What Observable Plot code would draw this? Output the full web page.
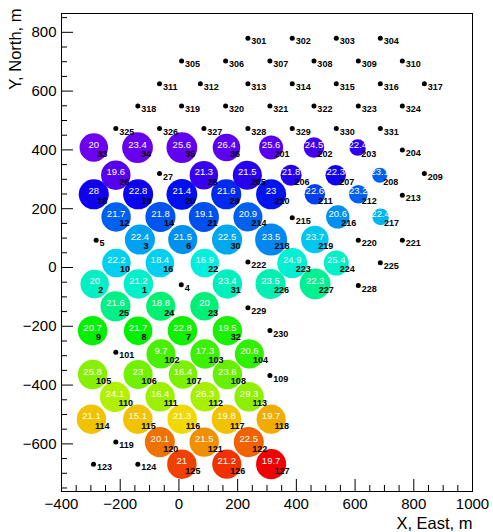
<!DOCTYPE html>
<html><head><meta charset="utf-8">
<script src="https://cdn.jsdelivr.net/npm/d3@7"></script>
<script src="https://cdn.jsdelivr.net/npm/@observablehq/plot@0.6"></script>
<style>body{margin:0;background:#fff}</style>
</head><body><div id="chart"></div>
<script>
// Stations with a signal: id, position (m), displayed value, amplitude (relative), arrival time (relative)
const hitIds = [33,34,35,36,201,202,203, 26,28,205,206,207,208, 18,19,20,29,210,211,212, 12,14,21,214,216,217, 3,6,30,218,219, 10,16,22,223,224, 2,1,31,226,227, 25,24,23, 9,8,7,32, 102,103,104, 105,106,107,108, 110,111,112,113, 114,115,116,117,118, 120,121,122, 125,126,127];
const hitX = [-290,-141,10,162,314,460,609, -215,85,233,382,534,684, -290,-139,10,161,314,463,611, -214,-63,85,235,541,687, -133,13,164,314,463, -213,-65,88,386,536, -287,-138,165,312,464, -216,-62,87, -294,-139,12,165, -61,89,240, -294,-139,14,165, -218,-64,89,239, -298,-140,11,162,314, -65,86,238, 10,163,314];
const hitY = [408,408,408,408,408,408,408, 314,314,314,314,314,314, 249,249,249,249,249,249,249, 172,172,172,172,172,172, 95,95,95,95,95, 15,15,15,15,15, -56,-56,-56,-56,-56, -132,-132,-132, -215,-215,-215,-215, -294,-294,-294, -364,-364,-364,-364, -440,-440,-440,-440, -516,-516,-516,-516,-516, -594,-594,-594, -669,-669,-669];
const hitValue = [20,23.4,25.6,26.4,25.6,24.5,22.4, 19.6,21.3,21.5,21.8,22.3,23.1, 28,22.8,21.4,21.6,23,22.6,23.2, 21.7,21.8,19.1,20.9,20.6,22.4, 22.4,21.5,22.5,23.5,23.7, 22.2,18.4,16.9,24.9,25.4, 20,21.2,23.4,23.5,22.3, 21.6,18.8,20, 20.7,21.7,22.8,19.5, 9.7,17.3,20.6, 25.8,23,16.4,23.6, 24.1,16.4,26.3,29.3, 21.1,15.1,21.3,19.8,19.7, 20.1,21.5,22.5, 21,21.2,19.7];
const hitAmp = [89,96,96,86,75,64,52, 92,89,91,66,64,47, 94,94,96,94,94,64,58, 92,94,94,91,73,52, 94,91,94,100,86, 89,89,89,94,78, 89,92,92,94,96, 94,91,89, 92,89,92,92, 91,92,91, 92,91,89,92, 94,92,92,92, 92,92,92,92,91, 94,92,94, 92,91,94];
const hitTime = [1,1.5,2,2.5,3,5,7, 3,6,7.5,8,9.5,20, 9.5,10,12.5,15,13,17,20, 20,19,18.5,20,24.5,28, 26,24.5,26.7,23.7,29.6, 30.4,30.4,35,36,37, 37.4,36.7,38,39,42, 43,45,44.5, 56,55.5,57,58, 62,61,60, 68,66,67,65, 72,70,71,68.5, 82,82,80,82,84, 89.6,86.7,91, 94,95.5,100];

// Stations without a signal
const dotIds = [301,302,303,304, 305,306,307,308,309,310, 311,312,313,314,315,316,317, 318,319,320,321,322,323,324, 325,326,327,328,329,330,331, 204, 27,209, 213, 215, 5,220,221, 222,225, 4,228, 229, 230, 101, 109, 119, 123,124];
const dotX = [235,386,536,686, 9,159,310,460,611,761, -66,73,235,386,536,686,836, -140,9,159,310,460,611,761, -215,-66,85,235,386,536,686, 761, -66,836, 761, 386, -282,611,761, 235,686, 8,611, 235, 310, -215, 310, -215, -291,-140];
const dotY = [780,780,780,780, 702,702,702,702,702,702, 625,625,625,625,625,625,625, 549,549,549,549,549,549,549, 473,473,473,473,473,473,473, 400, 320,320, 246, 169, 93,93,93, 19,16, -59,-61, -137, -214, -288, -367, -594, -669,-669];

const xMajor = [-400,-200,0,200,400,600,800,1000];
const yMajor = [-600,-400,-200,0,200,400,600,800];

const hits = hitIds.map((id, i) => ({id, x: hitX[i], y: hitY[i], value: hitValue[i], amp: hitAmp[i], t: hitTime[i]}));
const dots = dotIds.map((id, i) => ({id, x: dotX[i], y: dotY[i]}));
const xMinor = d3.range(-400, 1001, 50).filter(v => !xMajor.includes(v));
const yMinor = d3.range(-750, 851, 50).filter(v => !yMajor.includes(v));

const W = 493, H = 532, mL = 61, mR = 21, mT = 13, mB = 41;
const fw = W - mL - mR, fh = H - mT - mB;
const font = "'Liberation Sans', Arial, Helvetica, sans-serif";
const fmt = d3.format("d");

const chart = Plot.plot({
  width: W, height: H,
  marginLeft: mL, marginRight: mR, marginTop: mT, marginBottom: mB,
  style: {fontFamily: font, background: "white", color: "black"},
  x: {domain: [-400, 1000]},
  y: {domain: [-762, 864]},
  r: {type: "linear", domain: [0, 100], range: [0, 16]},
  color: {type: "linear", domain: [0, 100], interpolate: t => d3.hsl(270 * (1 - t), 1, 0.47).toString()},
  marks: [
    Plot.dot(hits, {x: "x", y: "y", r: "amp", fill: "t", stroke: null}),
    Plot.text(hits, {x: "x", y: "y", text: d => String(d.value), fill: "white", fontSize: 9.5, dy: -3}),
    Plot.dot(dots, {x: "x", y: "y", r: 2.5, fill: "black"}),
    Plot.text(dots, {x: "x", y: "y", text: d => String(d.id), fill: "black", fontSize: 9, fontWeight: "bold", textAnchor: "start", dx: 3.4, dy: 3.4}),
    Plot.text(hits, {x: "x", y: "y", text: d => String(d.id), fill: "black", fontSize: 9, fontWeight: "bold", textAnchor: "start", dx: 3.5, dy: 6.5}),
    Plot.frame({stroke: "black", strokeWidth: 1}),
    Plot.tickX(xMajor, {x: d => d, stroke: "black", insetTop: fh - 12}),
    Plot.tickX(xMinor, {x: d => d, stroke: "black", insetTop: fh - 6}),
    Plot.tickY(yMajor, {y: d => d, stroke: "black", insetRight: fw - 12}),
    Plot.tickY(yMinor, {y: d => d, stroke: "black", insetRight: fw - 6}),
    Plot.axisX({ticks: xMajor, tickSize: 0, tickPadding: 7, fontSize: 15, tickFormat: fmt, label: null}),
    Plot.axisY({ticks: yMajor, tickSize: 0, tickPadding: 5, fontSize: 15, tickFormat: fmt, label: null}),
    Plot.text(["X, East, m"], {frameAnchor: "bottom-right", text: d => d, textAnchor: "end", lineAnchor: "bottom", dy: 37, fontSize: 16.5}),
    Plot.text(["Y, North, m"], {frameAnchor: "top-left", text: d => d, rotate: -90, textAnchor: "end", lineAnchor: "middle", dx: -46, dy: -5, fontSize: 16.5})
  ]
});
document.getElementById("chart").appendChild(chart);
</script>
</body></html>
